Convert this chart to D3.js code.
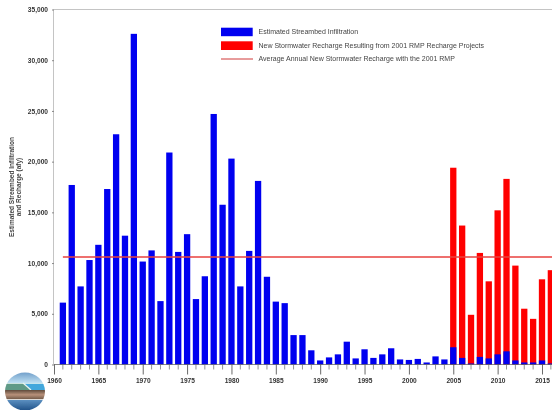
<!DOCTYPE html>
<html>
<head>
<meta charset="utf-8">
<script src="https://cdn.jsdelivr.net/npm/d3@7"></script>
<style>
  html, body { margin: 0; padding: 0; background: #fff; overflow: hidden; }
  svg { display: block; font-family: "Liberation Sans", Arial, sans-serif; }
</style>
</head>
<body>
<div id="chart"></div>
<script>
const infilYears = d3.range(1961, 2017);
const infiltration = [6100, 17700, 7700, 10300, 11800, 17300, 22700, 12700, 32600, 10150,
  11250, 6250, 20900, 11100, 12850, 6450, 8700, 24700, 15750, 20300,
  7700, 11200, 18100, 8650, 6200, 6050, 2900, 2900, 1400, 400,
  700, 1000, 2250, 600, 1500, 650, 1000, 1600, 500, 450,
  550, 200, 800, 500, 1700, 650, 100, 750, 600, 1000,
  1300, 400, 200, 200, 400, 100];
const rechargeYears = d3.range(2005, 2017);
const rechargeTotal = [19400, 13700, 4900, 11000, 8200, 15200, 18300, 9750, 5500, 4500, 8400, 9300];
const averageRecharge = 10600;
const yTicks = [0, 5000, 10000, 15000, 20000, 25000, 30000, 35000];
const legendLabels = [
  "Estimated Streambed Infiltration",
  "New Stormwater Recharge Resulting from 2001 RMP Recharge Projects",
  "Average Annual New Stormwater Recharge with the 2001 RMP"
];

const width = 552, height = 410;
const x = d3.scaleLinear().domain([1960, 2015]).range([54, 542]);
const y = d3.scaleLinear().domain([0, 35000]).range([364.5, 9.5]);
const barW = 6.3;

const svg = d3.select("#chart").append("svg")
  .attr("width", width).attr("height", height);

const defs = svg.append("defs");
defs.append("filter").attr("id", "soft")
  .append("feGaussianBlur").attr("stdDeviation", 0.45);

const root = svg.append("g").attr("filter", "url(#soft)");

// frame
root.append("path")
  .attr("d", `M${x(1960)-0.5},${y(0)}V${y(35000)}H${width}`)
  .attr("fill", "none").attr("stroke", "#b5b5b5").attr("stroke-width", 0.8);

// bars
const infil = infilYears.map((yr, i) => ({ yr, v: infiltration[i] }));
root.selectAll("rect.total")
  .data(rechargeYears.map((yr, i) => ({ yr, v: rechargeTotal[i] })))
  .join("rect")
  .attr("class", "total")
  .attr("x", d => x(d.yr) - barW / 2)
  .attr("y", d => y(d.v))
  .attr("width", barW)
  .attr("height", d => y(0) - y(d.v))
  .attr("fill", "#ff0000");

root.selectAll("rect.infil")
  .data(infil)
  .join("rect")
  .attr("class", "infil")
  .attr("x", d => x(d.yr) - barW / 2)
  .attr("y", d => y(d.v))
  .attr("width", barW)
  .attr("height", d => y(0) - y(d.v))
  .attr("fill", "#0000f0");

// average line
root.append("line")
  .attr("x1", x(1961)).attr("x2", width)
  .attr("y1", y(averageRecharge)).attr("y2", y(averageRecharge))
  .attr("stroke", "#e8403f").attr("stroke-width", 1.6);

// axes
const yAxis = d3.axisLeft(y).tickValues(yTicks).tickSize(2).tickPadding(4)
  .tickFormat(d3.format(","));
const gy = root.append("g").attr("transform", `translate(${x(1960)},0)`).call(yAxis);
gy.select(".domain").remove();
gy.selectAll("line").attr("stroke", "#888");
gy.selectAll("text").attr("font-size", 6.6).attr("font-weight", "bold").attr("fill", "#333")
  .attr("font-family", "Liberation Sans");

const xAxis = d3.axisBottom(x).tickValues(d3.range(1960, 2016, 5)).tickSize(10).tickPadding(4)
  .tickFormat(d3.format("d"));
const gx = root.append("g").attr("transform", `translate(0,${y(0)})`).call(xAxis);
gx.select(".domain").attr("d", `M${x(1960)},0H${width}`).attr("stroke", "#555").attr("stroke-width", 0.7);
gx.selectAll("line").attr("stroke", "#444").attr("stroke-width", 0.8);
gx.selectAll("text").attr("font-size", 6.6).attr("font-weight", "bold").attr("fill", "#333")
  .attr("font-family", "Liberation Sans");

// minor ticks
root.selectAll("line.minor")
  .data(d3.range(1961, 2017).filter(yr => yr % 5 !== 0))
  .join("line")
  .attr("class", "minor")
  .attr("x1", d => x(d)).attr("x2", d => x(d))
  .attr("y1", y(0)).attr("y2", y(0) + 5)
  .attr("stroke", "#666").attr("stroke-width", 0.7);

// y title
const yTitle = root.append("text")
  .attr("transform", "translate(13.5,187) rotate(-90)")
  .attr("text-anchor", "middle")
  .attr("font-size", 6.5).attr("font-weight", "bold").attr("fill", "#444");
yTitle.append("tspan").attr("x", 0).attr("y", 0).text("Estimated Streambed Infiltration");
yTitle.append("tspan").attr("x", 0).attr("y", 7.2).text("and Recharge (afy)");

// legend
const legendTop = [32, 45.7, 59];
const legend = root.append("g");
legend.append("rect").attr("x", 221).attr("y", 27.7).attr("width", 31.7).attr("height", 8.5).attr("fill", "#0000f0");
legend.append("rect").attr("x", 221).attr("y", 41.3).attr("width", 31.7).attr("height", 8.7).attr("fill", "#ff0000");
legend.append("line").attr("x1", 221).attr("x2", 253).attr("y1", 59).attr("y2", 59)
  .attr("stroke", "#d03a3a").attr("stroke-width", 1);
legend.selectAll("text").data(legendLabels).join("text")
  .attr("x", 258.5)
  .attr("y", (d, i) => legendTop[i] + 2.4)
  .attr("font-size", 7).attr("fill", "#444")
  .text(d => d);

// logo
const sky = defs.append("linearGradient").attr("id", "sky").attr("x1", 0).attr("x2", 0).attr("y1", 0).attr("y2", 1);
sky.append("stop").attr("offset", 0).attr("stop-color", "#6f9dc9");
sky.append("stop").attr("offset", 1).attr("stop-color", "#bfe0f2");
const sea = defs.append("linearGradient").attr("id", "sea").attr("x1", 0).attr("x2", 0).attr("y1", 0).attr("y2", 1);
sea.append("stop").attr("offset", 0).attr("stop-color", "#5b8fc0");
sea.append("stop").attr("offset", 1).attr("stop-color", "#1d4f86");
const soil = defs.append("linearGradient").attr("id", "soil").attr("x1", 0).attr("x2", 0).attr("y1", 0).attr("y2", 1);
soil.append("stop").attr("offset", 0).attr("stop-color", "#5e4a3c");
soil.append("stop").attr("offset", 0.5).attr("stop-color", "#b8917a");
soil.append("stop").attr("offset", 1).attr("stop-color", "#6d5545");
defs.append("clipPath").attr("id", "globe").append("ellipse")
  .attr("cx", 25).attr("cy", 391.5).attr("rx", 20).attr("ry", 19);
const logo = svg.append("g").attr("clip-path", "url(#globe)").attr("filter", "url(#soft)");
logo.append("rect").attr("x", 5).attr("y", 372).attr("width", 40).attr("height", 11).attr("fill", "url(#sky)");
logo.append("rect").attr("x", 5).attr("y", 383).attr("width", 40).attr("height", 7).attr("fill", "#5f9a86");
logo.append("path").attr("d", "M23,383L31,390H45V383Z").attr("fill", "#43a7dc");
logo.append("path").attr("d", "M23,383L31,390").attr("stroke", "#e8f4f0").attr("stroke-width", 1.2);
logo.append("rect").attr("x", 5).attr("y", 383).attr("width", 40).attr("height", 0.8).attr("fill", "#e8f4f0");
logo.append("rect").attr("x", 5).attr("y", 390).attr("width", 40).attr("height", 9.5).attr("fill", "url(#soil)");
logo.append("rect").attr("x", 5).attr("y", 399.3).attr("width", 40).attr("height", 0.9).attr("fill", "#eef2f2");
logo.append("rect").attr("x", 5).attr("y", 400).attr("width", 40).attr("height", 11).attr("fill", "url(#sea)");
</script>
</body>
</html>
